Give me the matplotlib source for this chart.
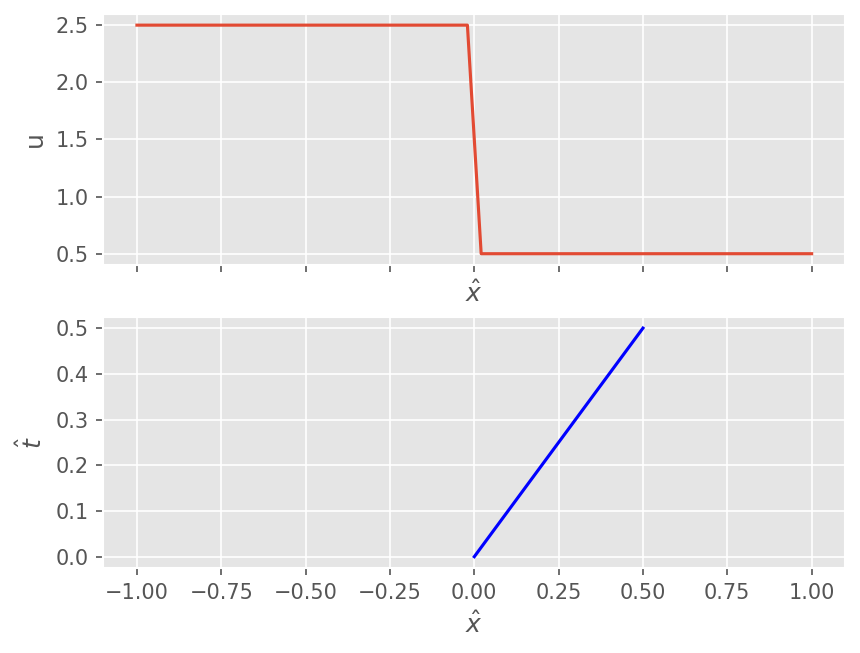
import matplotlib
matplotlib.use('Agg')
import matplotlib.pyplot as plt
from matplotlib.ticker import MultipleLocator

# top panel: step profile u(x)
x_u = [-1.0, -0.0204, 0.0204, 1.0]
u_vals = [2.5, 2.5, 0.5, 0.5]

# bottom panel: shock path t(x)
x_t = [0.0, 0.5]
t_vals = [0.0, 0.5]

plt.style.use('ggplot')

fig, (ax1, ax2) = plt.subplots(2, 1, sharex=True, figsize=(860 / 150, 653 / 150), dpi=150)
fig.subplots_adjust(left=0.12, right=0.983, top=0.979, bottom=0.13, hspace=0.205)

ax1.plot(x_u, u_vals, color='#E24A33', lw=1.5)
ax1.set_ylabel('u')
ax1.set_xlabel(r'$\hat{x}$')

ax2.plot(x_t, t_vals, color='blue', lw=1.5)
ax2.set_ylabel(r'$\hat{t}$')
ax2.set_xlabel(r'$\hat{x}$')
ax2.yaxis.set_major_locator(MultipleLocator(0.1))

fig.savefig('out.png', dpi=150)
